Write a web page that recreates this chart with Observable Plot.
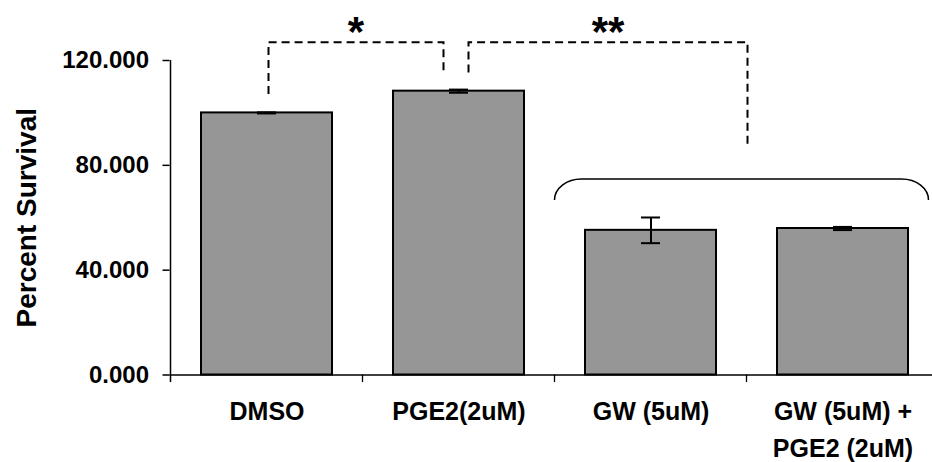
<!DOCTYPE html>
<html>
<head>
<meta charset="utf-8">
<script src="https://cdn.jsdelivr.net/npm/d3@7"></script>
<script src="https://cdn.jsdelivr.net/npm/@observablehq/plot@0.6"></script>
<style>
  html, body { margin: 0; padding: 0; background: #fff; }
  #chart svg { display: block; }
</style>
</head>
<body>
<div id="chart"></div>
<script>
// ---- data ----
const categories = ["DMSO", "PGE2(2uM)", "GW (5uM)", "GW (5uM) +\nPGE2 (2uM)"];
const survival = [100.0, 108.3, 55.2, 55.9];
const errors = [0.2, 0.6, 4.9, 0.6];
const yTicks = [0, 40, 80, 120];
const yLabel = "Percent Survival";
const sigLabels = ["*", "**"];

const data = categories.map((c, i) => ({category: c, value: survival[i], error: errors[i]}));

function bw(X) { return typeof X.bandwidth === "function" ? X.bandwidth() : X.bandwidth; }
function st(X) { return typeof X.step === "function" ? X.step() : X.step; }

// axis line, category boundary ticks, significance brackets, brace, stars
function annotations(index, scales) {
  const X = scales.x, Y = scales.y;
  const w = bw(X), step = st(X);
  const cx = c => X(c) + w / 2;
  const edge = c => cx(c) - step / 2;
  const g = d3.create("svg:g");
  const y0 = Y(0);
  // y axis line
  g.append("line")
    .attr("x1", edge(categories[0])).attr("x2", edge(categories[0]))
    .attr("y1", Y(yTicks[yTicks.length - 1])).attr("y2", y0 + 7.5)
    .attr("stroke", "#000").attr("stroke-width", 1.5);
  // boundary ticks
  for (const c of categories.slice(1)) {
    g.append("line")
      .attr("x1", edge(c)).attr("x2", edge(c))
      .attr("y1", y0).attr("y2", y0 + 7.5)
      .attr("stroke", "#000").attr("stroke-width", 1.3);
  }
  // dashed brackets
  const top = Y(126.8);
  const b1 = [cx(categories[0]) + 2, cx(categories[1]) - 15];
  const b2 = [cx(categories[1]) + 10, edge(categories[3]) + 1];
  g.append("path")
    .attr("d", `M${b1[0]},${Y(107)}V${top}H${b1[1]}V${Y(115.2)}` +
               `M${b2[0]},${Y(115.2)}V${top}H${b2[1]}V${Y(87.6)}`)
    .attr("fill", "none").attr("stroke", "#000").attr("stroke-width", 2)
    .attr("stroke-dasharray", "8,5");
  // stars
  [b1, b2].forEach((b, i) => {
    g.append("text")
      .attr("x", (b[0] + b[1]) / 2).attr("y", Y(125.5))
      .attr("text-anchor", "middle")
      .attr("font-size", 42).attr("font-weight", "bold")
      .attr("fill", "#000")
      .text(sigLabels[i]);
  });
  // brace over GW groups
  const bl = edge(categories[2]), br = cx(categories[3]) + 86;
  const by0 = Y(66.6), by1 = Y(74.6), ry = by0 - by1, rx = 27;
  g.append("path")
    .attr("d", `M${bl},${by0}A${rx},${ry} 0 0 1 ${bl + rx},${by1}H${br - rx}A${rx},${ry} 0 0 1 ${br},${by0}`)
    .attr("fill", "none").attr("stroke", "#000").attr("stroke-width", 1.5);
  return g.node();
}

const chart = Plot.plot({
  width: 932,
  height: 462,
  marginLeft: 169.5,
  marginRight: 0,
  marginTop: 60,
  marginBottom: 87.5,
  style: {fontFamily: "'Liberation Sans', Arial, sans-serif", color: "#000", background: "#fff", overflow: "visible"},
  x: {domain: categories, range: [169.5, 938.3], paddingInner: 0.32, paddingOuter: 0.16, align: 0.5},
  y: {domain: [0, 120]},
  marks: [
    Plot.barY(data, {x: "category", y: "value", fill: "#969696", stroke: "#000", strokeWidth: 2}),
    Plot.ruleX(data, {x: "category", y1: d => d.value - d.error, y2: d => d.value + d.error, stroke: "#000", strokeWidth: 2}),
    Plot.tickY(data, {x: "category", y: d => d.value + d.error, insetLeft: 56, insetRight: 56, stroke: "#000", strokeWidth: 2}),
    Plot.tickY(data, {x: "category", y: d => d.value - d.error, insetLeft: 56, insetRight: 56, stroke: "#000", strokeWidth: 2}),
    Plot.ruleY([0], {stroke: "#000", strokeWidth: 1.5}),
    Plot.axisY({ticks: yTicks, tickFormat: d => d.toFixed(3), tickSize: 7, tickPadding: 14,
      fontSize: 24, fontWeight: "bold", stroke: "#000", strokeWidth: 1.5, label: null}),
    Plot.axisX({tickSize: 0, tickPadding: 18, fontSize: 25, fontWeight: "bold", lineHeight: 1.5, label: null}),
    Plot.text([yLabel], {frameAnchor: "left", dx: -154, rotate: -90, textAnchor: "middle", lineAnchor: "top",
      fontSize: 28, fontWeight: "bold", fill: "#000"}),
    annotations
  ]
});
document.getElementById("chart").appendChild(chart);
</script>
</body>
</html>
